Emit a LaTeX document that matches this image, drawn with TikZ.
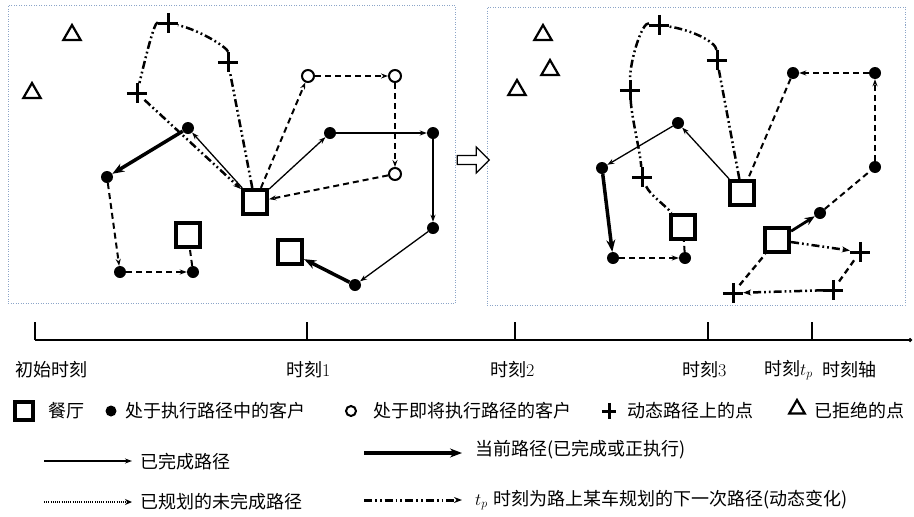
\documentclass[tikz,border=0pt]{standalone}
\usepackage{fontspec}
\newfontfamily\cjk{Noto Sans CJK SC}
\usetikzlibrary{arrows.meta,shapes.geometric,shapes.arrows}
\definecolor{panelc}{RGB}{140,165,200}
\newcommand{\mycross}[1]{\draw[line width=3pt,solid,-] (#1.north) -- (#1.south) (#1.west) -- (#1.east);}
\begin{document}
\begin{tikzpicture}[x=1pt,y=-1pt,
 shop/.style={draw,line width=4.2pt,minimum size=24pt,inner sep=0pt},
 cust/.style={circle,fill,minimum size=12pt,inner sep=0pt},
 ocust/.style={circle,draw,line width=2pt,minimum size=12pt,inner sep=0pt,fill=white},
 dyn/.style={circle,minimum size=20pt,inner sep=0pt},
 rej/.style={regular polygon,regular polygon sides=3,draw,line width=2.2pt,minimum size=20pt,inner sep=0pt},
 done/.style={-{Stealth[length=7pt,width=5pt]},line width=1.3pt},
 cur/.style={-{Stealth[length=12pt,width=9pt]},line width=3.5pt},
 plan/.style={line width=2pt,dash pattern=on 6pt off 4pt},
 planar/.style={plan,-{Stealth[length=7pt,width=5pt]}},
 dynp/.style={line width=2.5pt,dash pattern=on 8pt off 3pt on 1.8pt off 3pt on 1.8pt off 3pt},
 dynar/.style={dynp,-{Stealth[length=8pt,width=6pt]}},
 panel/.style={draw=panelc,line width=1pt,dash pattern=on 1pt off 1.5pt,inner sep=0pt},
 lbl/.style={font=\fontsize{18}{20}\selectfont\cjk,inner sep=0pt,anchor=west},
 tlbl/.style={font=\fontsize{18}{20}\selectfont,inner sep=0pt,anchor=west}
]
\useasboundingbox (0,0) rectangle (914,517);
% panels
\node[panel,minimum width=447pt,minimum height=298pt] (p1) at (231.5,154.5) {};
\node[panel,minimum width=418pt,minimum height=298pt] (p2) at (696,156) {};
\node[single arrow,draw,line width=1.2pt,minimum height=32pt,minimum width=26pt,
  single arrow head extend=5pt,inner sep=2pt] (go) at (471,160) {};

% ---------- left panel ----------
\node[rej] (r1) at (72,35) {};
\node[rej] (r2) at (32,93) {};
\node[shop] (S1) at (255,202) {};
\node[shop] (S2) at (188,235) {};
\node[shop] (S3) at (290,252) {};
\node[cust] (a) at (188,128) {};
\node[cust] (b) at (107,177) {};
\node[cust] (c) at (120,272) {};
\node[cust] (d) at (193,272) {};
\node[cust] (e) at (330,133) {};
\node[cust] (f) at (433,133) {};
\node[cust] (g) at (433,228) {};
\node[cust] (h) at (355,285) {};
\node[ocust] (o1) at (308,76) {};
\node[ocust] (o2) at (395,76) {};
\node[ocust] (o3) at (395,174) {};
\node[dyn] (x1) at (168,23) {};
\node[dyn] (x2) at (228,62) {};
\node[dyn] (x3) at (137,93) {};

\draw[done] (S1) -- (a);
\draw[done] (S1) -- (e);
\draw[done] (e) -- (f);
\draw[done] (f) -- (g);
\draw[done] (g) -- (h);
\draw[cur] (h) -- (S3);
\draw[cur] (a) -- (b);
\draw[planar] (b) -- (c);
\draw[planar] (c) -- (d);
\draw[plan] (d) -- (S2);
\draw[planar] (S1) -- (o1);
\draw[planar] (o1) -- (o2);
\draw[planar] (o2) -- (o3);
\draw[planar] (o3) -- (S1);
\draw[dynp] (S1) -- (x2);
\draw[dynp] (x2) .. controls (228,48) and (200,30) .. (x1);
\draw[dynp] (x1) .. controls (154,22) and (145,60) .. (x3);
\draw[dynar] (x3) -- (S1);

% ---------- right panel ----------
\node[rej] (r3) at (543,35) {};
\node[rej] (r4) at (550,70) {};
\node[rej] (r5) at (517,90) {};
\node[shop] (T1) at (742,193) {};
\node[shop] (T2) at (683,227) {};
\node[shop] (T3) at (777,240) {};
\node[cust] (p) at (678,123) {};
\node[cust] (q) at (602,168) {};
\node[cust] (u) at (613,258) {};
\node[cust] (v) at (685,258) {};
\node[cust] (w) at (793,73) {};
\node[cust] (y) at (875,73) {};
\node[cust] (z) at (875,167) {};
\node[cust] (k) at (820,213) {};
\node[dyn] (c1) at (659,25) {};
\node[dyn] (c2) at (717,60) {};
\node[dyn] (c3) at (630,90) {};
\node[dyn] (c4) at (642,177) {};
\node[dyn] (c5) at (860,252) {};
\node[dyn] (c6) at (833,290) {};
\node[dyn] (c7) at (733,293) {};

\draw[done] (T1) -- (p);
\draw[done] (p) -- (q);
\draw[cur] (q) -- (u);
\draw[planar] (u) -- (v);
\draw[plan] (v) -- (T2);
\draw[plan] (w) -- (T1);
\draw[planar] (y) -- (w);
\draw[planar] (z) -- (y);
\draw[plan] (k) -- (z);
\draw[cur,line width=2.8pt,-{Stealth[length=10pt,width=8pt]}] (T3) -- (k);
\draw[dynp] (T1) -- (c2);
\draw[dynp] (c2) .. controls (716,42) and (692,30) .. (c1);
\draw[dynp] (c1) .. controls (642,22) and (630,60) .. (c3);
\draw[dynp] (c3) .. controls (632,120) and (640,150) .. (c4);
\draw[dynp] (c4) .. controls (650,195) and (665,205) .. (T2);
\draw[dynar] (T3) -- (c5);
\draw[plan,line width=2.3pt] (c5) -- (c6);
\draw[dynar] (c6) -- (c7);
\draw[plan,line width=2.3pt] (c7) -- (T3);

\mycross{x1}\mycross{x2}\mycross{x3}
\mycross{c1}\mycross{c2}\mycross{c3}\mycross{c4}\mycross{c5}\mycross{c6}\mycross{c7}

% ---------- time axis ----------
\coordinate (ax0) at (35,340);
\coordinate (ax1) at (912,340);
\draw[line width=1.2pt,-{Circle[length=4pt]}] (ax0) -- (ax1);
\foreach \n/\x in {t0/35,t1/307,t2/515,t3/708,t4/812}{
  \coordinate (\n) at (\x,340);
  \draw[line width=1.2pt] (\n) -- ++(0,-18);
}
\node[lbl] (l0) at (15,370) {初始时刻};
\node[tlbl] (l1) at (286,370) {{\cjk 时刻}1};
\node[tlbl] (l2) at (490,370) {{\cjk 时刻}2};
\node[tlbl] (l3) at (682,370) {{\cjk 时刻}3};
\node[tlbl] (l4) at (764,370) {{\cjk 时刻}$t_p$};
\node[lbl] (l5) at (822,370) {时刻轴};

% ---------- legend ----------
\node[draw,line width=3.8pt,minimum size=18pt,inner sep=0pt] (gS) at (24,411) {};
\node[lbl] (gSt) at (48,411) {餐厅};
\node[cust,minimum size=11pt] (gC) at (111,411) {};
\node[lbl] (gCt) at (125,411) {处于执行路径中的客户};
\node[ocust,minimum size=10pt] (gO) at (351,411) {};
\node[lbl] (gOt) at (373,411) {处于即将执行路径的客户};
\node[circle,minimum size=16pt,inner sep=0pt] (gX) at (609,411) {};
\draw[line width=3pt] (gX.north) -- (gX.south) ([xshift=1pt]gX.west) -- ([xshift=-1pt]gX.east);
\node[lbl] (gXt) at (627,411) {动态路径上的点};
\node[rej,minimum size=18pt] (gR) at (797,409) {};
\node[lbl] (gRt) at (814,411) {已拒绝的点};

\coordinate (la0) at (44,461);
\coordinate (la1) at (132,461);
\draw[done] (la0) -- (la1);
\node[lbl] (lat) at (140,462) {已完成路径};
\coordinate (lb0) at (364,453);
\coordinate (lb1) at (462,453);
\draw[cur,line width=4pt] (lb0) -- (lb1);
\node[lbl] (lbt) at (475,450) {当前路径(已完成或正执行)};
\coordinate (lc0) at (44,502);
\coordinate (lc1) at (132,502);
\draw[line width=1.5pt,dash pattern=on 1pt off 1.2pt,-{Stealth[length=7pt,width=6pt]}] (lc0) -- (lc1);
\node[lbl] (lct) at (140,502) {已规划的未完成路径};
\coordinate (ld0) at (364,500);
\coordinate (ld1) at (462,500);
\draw[dynar,line width=3pt] (ld0) -- (ld1);
\node[tlbl] (ldt) at (475,500) {$t_p$ {\cjk 时刻为路上某车规划的下一次路径(动态变化)}};
\end{tikzpicture}
\end{document}
